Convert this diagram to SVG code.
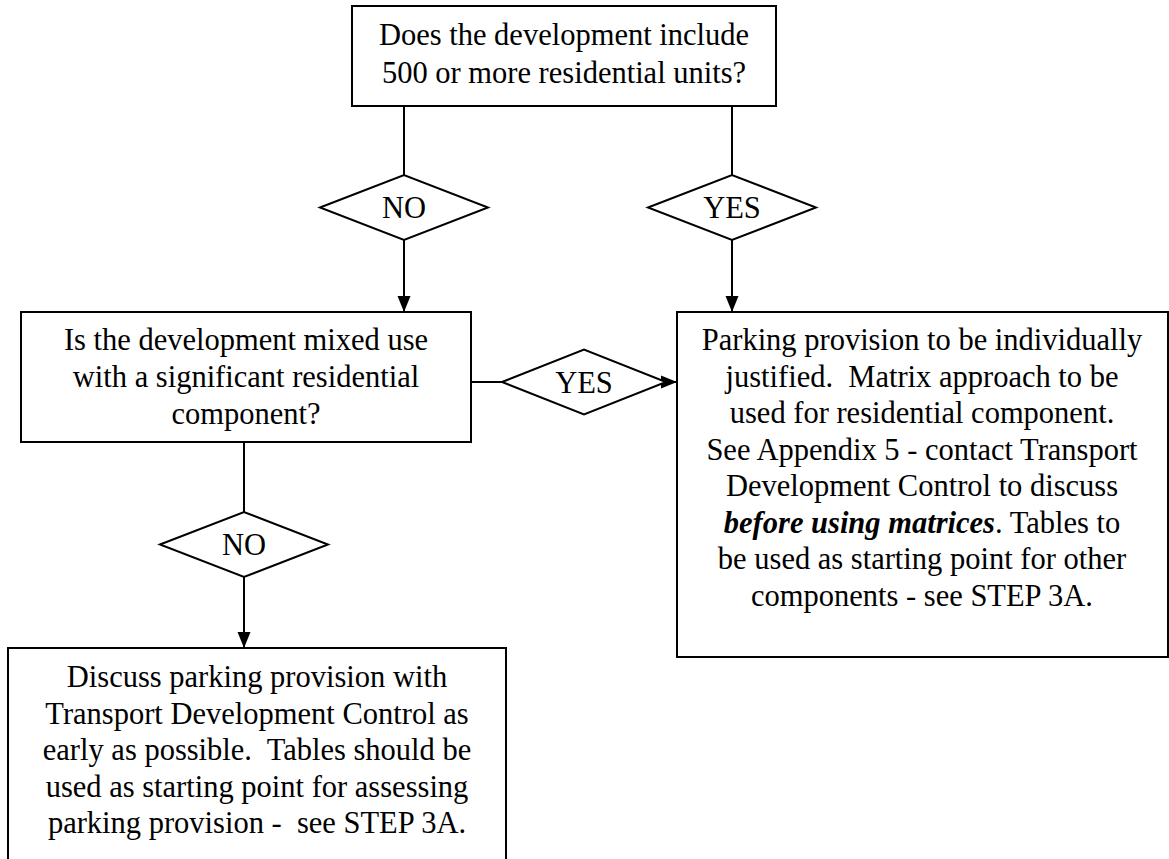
<svg xmlns="http://www.w3.org/2000/svg" width="1169" height="859" viewBox="0 0 1169 859">
<defs>
<style>
.box{fill:#fff;stroke:#000;stroke-width:2}
.dia{fill:#fff;stroke:#000;stroke-width:2}
.con{fill:none;stroke:#000;stroke-width:2}
text{font-family:"Liberation Serif","Times New Roman",serif;font-size:30.5px;fill:#000;text-anchor:middle;white-space:pre}
.bi{font-weight:bold;font-style:italic}
</style>
<marker id="arr" markerUnits="userSpaceOnUse" markerWidth="16" markerHeight="16" viewBox="0 0 16 16" refX="16" refY="8" orient="auto">
<path d="M0,1.5 L16,8 L0,14.5 Z" fill="#000"/>
</marker>
</defs>
<rect width="1169" height="859" fill="#fff"/>
<g id="connectors">
<line class="con" x1="404" y1="106" x2="404" y2="175"/>
<line class="con" x1="404" y1="240" x2="404" y2="312" marker-end="url(#arr)"/>
<line class="con" x1="732" y1="106" x2="732" y2="175"/>
<line class="con" x1="732" y1="240" x2="732" y2="312" marker-end="url(#arr)"/>
<line class="con" x1="471" y1="382" x2="502" y2="382"/>
<line class="con" x1="666" y1="382" x2="677" y2="382" marker-end="url(#arr)"/>
<line class="con" x1="244" y1="442" x2="244" y2="512"/>
<line class="con" x1="244" y1="577" x2="244" y2="648" marker-end="url(#arr)"/>
</g>
<g id="q1">
<rect class="box" x="352" y="6" width="424" height="100"/>
<text x="564" y="45">Does the development include</text>
<text x="564" y="83">500 or more residential units?</text>
</g>
<g id="no1">
<polygon class="dia" points="320,207.5 404,175 488,207.5 404,240"/>
<text x="404" y="218">NO</text>
</g>
<g id="yes1">
<polygon class="dia" points="648,207.5 732,175 816,207.5 732,240"/>
<text x="732" y="218">YES</text>
</g>
<g id="q2">
<rect class="box" x="21" y="312" width="450" height="130"/>
<text x="246" y="350">Is the development mixed use</text>
<text x="246" y="387">with a significant residential</text>
<text x="246" y="424">component?</text>
</g>
<g id="yes2">
<polygon class="dia" points="502,382 584,349.5 666,382 584,414.5"/>
<text x="584" y="393">YES</text>
</g>
<g id="r1">
<rect class="box" x="677" y="312" width="491" height="345"/>
<text x="922" y="350">Parking provision to be individually</text>
<text x="922" y="386.5">justified.  Matrix approach to be</text>
<text x="922" y="423">used for residential component.</text>
<text x="922" y="459.5">See Appendix 5 - contact Transport</text>
<text x="922" y="496">Development Control to discuss</text>
<text x="922" y="532.5"><tspan class="bi">before using matrices</tspan>. Tables to</text>
<text x="922" y="569">be used as starting point for other</text>
<text x="922" y="605.5">components - see STEP 3A.</text>
</g>
<g id="no2">
<polygon class="dia" points="160,544.5 244,512 328,544.5 244,577"/>
<text x="244" y="555">NO</text>
</g>
<g id="r2">
<rect class="box" x="8" y="648" width="498" height="230"/>
<text x="257" y="687">Discuss parking provision with</text>
<text x="257" y="723.5">Transport Development Control as</text>
<text x="257" y="760">early as possible.  Tables should be</text>
<text x="257" y="796.5">used as starting point for assessing</text>
<text x="257" y="833">parking provision -  see STEP 3A.</text>
</g>
</svg>
